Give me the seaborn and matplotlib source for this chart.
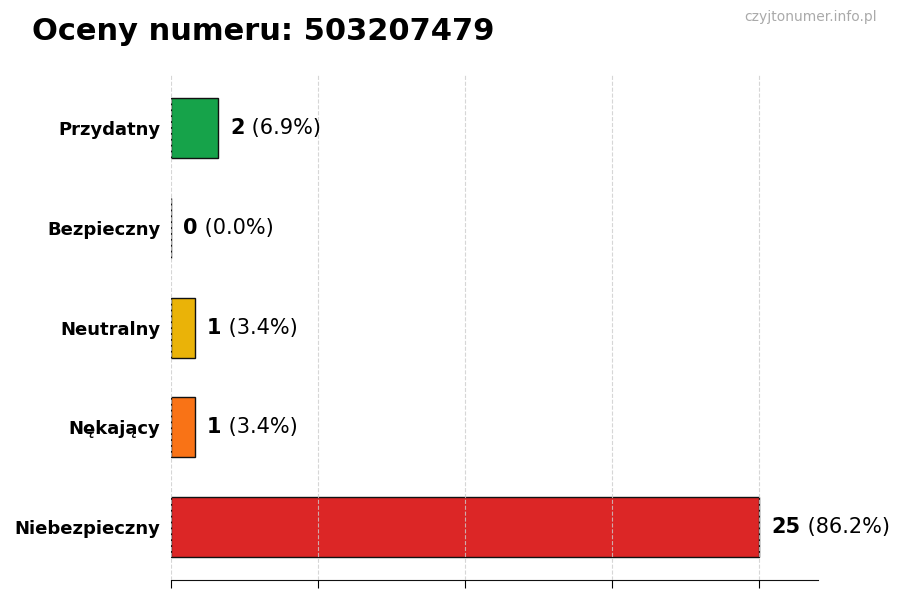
import numpy as np
import pandas as pd
import matplotlib
matplotlib.use("Agg")
import matplotlib.pyplot as plt
import seaborn as sns

categories = ["Przydatny", "Bezpieczny", "Neutralny", "Nękający", "Niebezpieczny"]
counts = [2, 0, 1, 1, 25]
colors = ["#16a34a", "#3b82f6", "#eab308", "#f97316", "#dc2626"]
number = "503207479"

total = sum(counts)
df = pd.DataFrame({"kategoria": categories, "liczba": counts})

sns.set_style("white")
plt.rcParams["font.family"] = ["DejaVu Sans"]
plt.rcParams["text.color"] = "black"
plt.rcParams["xtick.color"] = "black"
plt.rcParams["ytick.color"] = "black"

fig = plt.figure(figsize=(9, 6), dpi=100)
ax = fig.add_axes([0.19, 0.033, 0.719, 0.842])

sns.barplot(data=df, x="liczba", y="kategoria", hue="kategoria",
            palette=colors, saturation=1, orient="h", width=0.6,
            edgecolor="#111111", linewidth=1, legend=False, ax=ax)

n = len(categories)
pad = 0.05 * (n - 1 + 0.6)
ax.set_ylim(n - 1 + 0.3 + pad, -0.3 - pad)

vmax = max(counts)
ax.set_xlim(0, vmax * 1.1)
ax.set_xticks(np.linspace(0, vmax, 5))
ax.set_xticklabels([])
ax.xaxis.grid(True, linestyle="--", color="#cccccc", linewidth=0.8, alpha=0.8)
ax.set_axisbelow(False)
ax.set_xlabel("")
ax.set_ylabel("")
ax.tick_params(axis="y", length=4, labelsize=13)
ax.tick_params(axis="x", length=6, bottom=True)
for lab in ax.get_yticklabels():
    lab.set_fontweight("bold")
for s in ["top", "right", "left"]:
    ax.spines[s].set_visible(False)
ax.spines["bottom"].set_color("#111111")

for i, v in enumerate(counts):
    pct = v / total * 100
    ann = ax.annotate(f"{v}", xy=(v, i), xytext=(9, 0), textcoords="offset points",
                      va="center", ha="left", fontsize=15, fontweight="bold")
    ax.annotate(f" ({pct:.1f}%)", xy=(1, 0.5), xycoords=ann, va="center", ha="left",
                fontsize=15)

fig.text(0.035, 0.947, f"Oceny numeru: {number}", fontsize=22, fontweight="bold",
         ha="left", va="center")
fig.text(0.974, 0.972, "czyjtonumer.info.pl", fontsize=10, color="#aaaaaa",
         ha="right", va="center")

fig.savefig("out.png", dpi=100)
